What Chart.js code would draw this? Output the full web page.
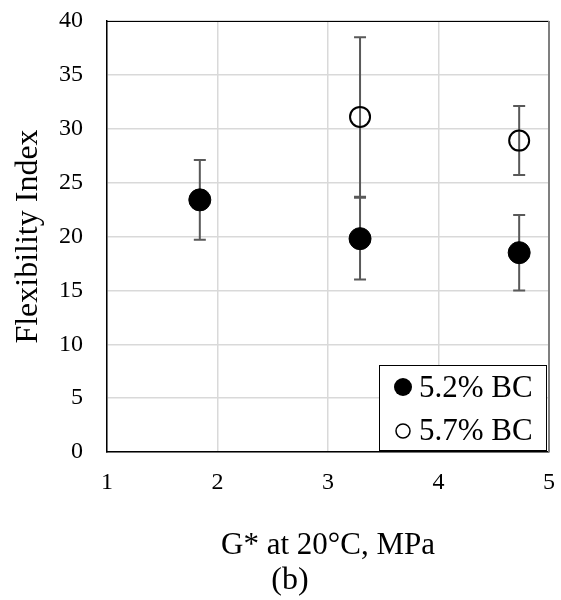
<!DOCTYPE html>
<html lang="en">
<head>
  <meta charset="UTF-8" />
  <title>Flexibility Index vs G*</title>
  <script src="https://cdn.jsdelivr.net/npm/chart.js"></script>
  <style>
    body {
      margin: 0;
      background: #fff;
    }
    #chart-container {
      width: 561px;
      height: 600px;
      position: relative;
    }
  </style>
</head>
<body>
  <div id="chart-container">
    <canvas id="fiChart" width="561" height="600"></canvas>
  </div>

  <script>
    // data
    const seriesLabels = ["5.2% BC", "5.7% BC"];
    const gStar52 = [1.84, 3.29, 4.73];
    const fi52 = [23.4, 19.8, 18.5];
    const err52 = [3.7, 3.8, 3.5];
    const gStar57 = [3.29, 4.73];
    const fi57 = [31.1, 28.9];
    const err57 = [7.4, 3.2];
    const xTicks = [1, 2, 3, 4, 5];
    const yTicks = [0, 5, 10, 15, 20, 25, 30, 35, 40];

    const errors = [err52, err57];
    const serif = "'Liberation Serif', 'Times New Roman', serif";

    // error bars, drawn under the markers
    const errorBars = {
      id: "errorBars",
      beforeDatasetsDraw(chart) {
        const { ctx, chartArea, scales: { x, y } } = chart;
        ctx.save();
        // top and right frame of the plot area
        ctx.strokeStyle = "#000";
        ctx.lineWidth = 1;
        ctx.beginPath();
        ctx.moveTo(chartArea.left, chartArea.top + 0.5);
        ctx.lineTo(chartArea.right, chartArea.top + 0.5);
        ctx.stroke();
        ctx.strokeStyle = "#7f7f7f";
        ctx.lineWidth = 2;
        ctx.beginPath();
        ctx.moveTo(chartArea.right, chartArea.top);
        ctx.lineTo(chartArea.right, chartArea.bottom);
        ctx.stroke();

        ctx.strokeStyle = "#595959";
        ctx.lineWidth = 2;
        chart.data.datasets.forEach((ds, i) => {
          ds.data.forEach((p, j) => {
            const e = errors[i][j];
            const px = x.getPixelForValue(p.x);
            const top = y.getPixelForValue(p.y + e);
            const bot = y.getPixelForValue(p.y - e);
            ctx.beginPath();
            ctx.moveTo(px, top);
            ctx.lineTo(px, bot);
            ctx.moveTo(px - 6, top);
            ctx.lineTo(px + 6, top);
            ctx.moveTo(px - 6, bot);
            ctx.lineTo(px + 6, bot);
            ctx.stroke();
          });
        });
        ctx.restore();
      }
    };

    // boxed legend in the lower right corner, plus the "(b)" caption
    const boxLegend = {
      id: "boxLegend",
      afterDatasetsDraw(chart) {
        const { ctx, chartArea } = chart;
        const w = 167, h = 85;
        const bx = chartArea.right - 3 - w;
        const by = chartArea.bottom - 2 - h;
        ctx.save();
        ctx.fillStyle = "#fff";
        ctx.fillRect(bx, by, w, h);
        ctx.strokeStyle = "#000";
        ctx.lineWidth = 1;
        ctx.strokeRect(bx + 0.5, by + 0.5, w, h);

        ctx.font = "31px " + serif;
        ctx.textBaseline = "alphabetic";
        ctx.fillStyle = "#000";
        // filled marker
        ctx.beginPath();
        ctx.arc(bx + 24, by + 22, 9, 0, Math.PI * 2);
        ctx.fill();
        ctx.fillText(seriesLabels[0], bx + 40, by + 32);
        // open marker
        ctx.lineWidth = 1.5;
        ctx.beginPath();
        ctx.arc(bx + 24, by + 66, 7, 0, Math.PI * 2);
        ctx.stroke();
        ctx.fillText(seriesLabels[1], bx + 40, by + 75);

        ctx.font = "32px " + serif;
        ctx.textAlign = "center";
        ctx.textBaseline = "middle";
        ctx.fillText("(b)", 290, 581);
        ctx.restore();
      }
    };

    const ctx = document.getElementById("fiChart").getContext("2d");
    const fiChart = new Chart(ctx, {
      type: "scatter",
      data: {
        datasets: [
          {
            label: seriesLabels[0],
            data: gStar52.map((g, i) => ({ x: g, y: fi52[i] })),
            pointRadius: 11,
            pointBackgroundColor: "#000",
            pointBorderColor: "#000",
            pointBorderWidth: 1
          },
          {
            label: seriesLabels[1],
            data: gStar57.map((g, i) => ({ x: g, y: fi57[i] })),
            pointRadius: 10,
            pointBackgroundColor: "rgba(0,0,0,0)",
            pointBorderColor: "#000",
            pointBorderWidth: 2
          }
        ]
      },
      options: {
        responsive: false,
        animation: false,
        layout: { padding: { left: 0, right: 8, top: 21, bottom: 0 } },
        plugins: {
          legend: { display: false },
          tooltip: { enabled: false }
        },
        scales: {
          x: {
            type: "linear",
            min: 1,
            max: 5,
            afterBuildTicks: s => { s.ticks = xTicks.map(v => ({ value: v })); },
            afterFit: s => { s.height = 148; s.paddingLeft = 0; s.paddingRight = 0; },
            ticks: {
              color: "#000",
              padding: 16,
              font: { family: serif, size: 24 }
            },
            grid: { color: "#d9d9d9", lineWidth: 1.5, drawTicks: false },
            border: { color: "#000", width: 1.5 },
            title: {
              display: true,
              text: "G* at 20°C, MPa",
              color: "#000",
              font: { family: serif, size: 31 },
              padding: { top: 0, bottom: 36 }
            }
          },
          y: {
            min: 0,
            max: 40,
            afterBuildTicks: s => { s.ticks = yTicks.map(v => ({ value: v })); },
            afterFit: s => { s.width = 107; s.paddingTop = 0; s.paddingBottom = 0; },
            ticks: {
              color: "#000",
              padding: 24,
              font: { family: serif, size: 24 }
            },
            grid: { color: "#d9d9d9", lineWidth: 1.5, drawTicks: false },
            border: { color: "#000", width: 1.5 },
            title: {
              display: true,
              text: "Flexibility Index",
              color: "#000",
              font: { family: serif, size: 32 },
              padding: { top: 9, bottom: 0 }
            }
          }
        }
      },
      plugins: [errorBars, boxLegend]
    });
  </script>
</body>
</html>
